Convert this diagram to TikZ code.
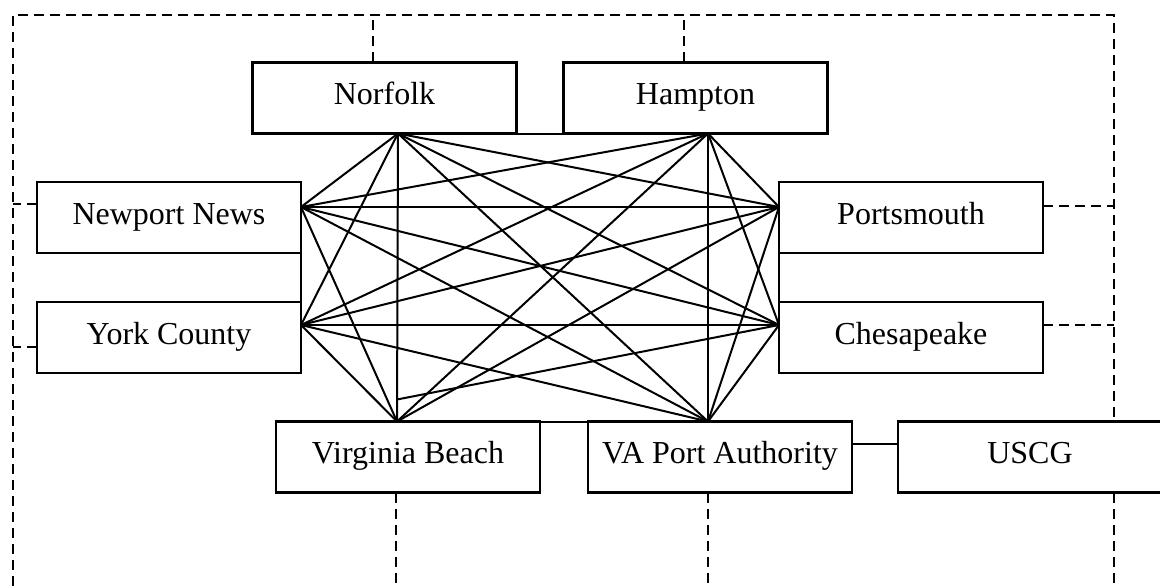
\documentclass[tikz,border=0pt]{standalone}
\usepackage{fontspec}
\setmainfont{Liberation Serif}
\usetikzlibrary{calc}
\begin{document}
\begin{tikzpicture}[x=1pt,y=-1pt,
  box/.style={draw,line width=2.2pt,minimum width=264pt,minimum height=71pt,inner sep=0pt,outer sep=0pt,
    text height=21pt,text depth=8pt,font=\fontsize{32}{38}\selectfont},
  link/.style={line width=2pt},
  dashlink/.style={line width=2pt,dash pattern=on 10pt off 6pt}]
\useasboundingbox (0,0) rectangle (1160,586);
% boxes
\node[box] (Nor)  at (384.5,98)  {Norfolk};
\node[box] (Ham)  at (695.5,98)  {Hampton};
\node[box] (NN)   at (169,217.5) {Newport News};
\node[box] (YC)   at (169,337.5) {York County};
\node[box] (Port) at (911,217.5) {Portsmouth};
\node[box] (Ches) at (911,337.5) {Chesapeake};
\node[box] (VB)   at (408,457)   {Virginia Beach};
\node[box] (VAPA) at (720,457)   {VA Port Authority};
\node[box] (USCG) at (1030,457)  {USCG};
% connection points
\coordinate (pA) at ($(Nor.south)+(13.5,0)$);
\coordinate (pB) at ($(Ham.south)+(12.5,0)$);
\coordinate (pC) at ($(NN.east)+(0,-10.5)$);
\coordinate (pD) at ($(YC.east)+(0,-12.5)$);
\coordinate (pE) at ($(Port.west)+(0,-10.5)$);
\coordinate (pF) at ($(Ches.west)+(0,-12.5)$);
\coordinate (pG) at ($(VB.north)+(-11,0)$);
\coordinate (pH) at ($(VAPA.north)+(-12,0)$);
\coordinate (pGx) at ($(pG)+(0,-22)$);
% complete network
\foreach \a/\b in {pA/pB,pA/pC,pA/pD,pA/pE,pA/pF,pA/pG,pA/pH,
                   pB/pC,pB/pD,pB/pE,pB/pF,pB/pG,pB/pH,
                   pC/pD,pC/pE,pC/pF,pC/pG,pC/pH,
                   pD/pE,pD/pF,pD/pG,pD/pH,
                   pE/pF,pE/pG,pE/pH,
                   pF/pGx,pF/pH,pG/pH}
  \draw[link] (\a) -- (\b);
% VAPA - USCG
\coordinate (vu) at ($(VAPA.east)+(0,-13)$);
\draw[link] (vu) -- (USCG.west |- vu);
% outer dashed frame
\coordinate (tl) at (13,15);
\coordinate (tr) at (1114,15);
\coordinate (bl) at (13,586);
\draw[dashlink] (bl) -- (tl) -- (tr) -- (tr |- USCG.north);
\coordinate (us) at ($(USCG.south)+(84,0)$);
\draw[dashlink] (us) -- (us |- bl);
% dashed ties
\coordinate (dA) at ($(Nor.north)+(-11.5,0)$);
\draw[dashlink] (dA) -- (dA |- tl);
\coordinate (dB) at ($(Ham.north)+(-11.5,0)$);
\draw[dashlink] (dB) -- (dB |- tl);
\coordinate (dC) at ($(NN.west)+(0,-13.5)$);
\draw[dashlink] (dC) -- (tl |- dC);
\coordinate (dD) at ($(YC.west)+(0,9.5)$);
\draw[dashlink] (dD) -- (tl |- dD);
\coordinate (dE) at ($(Port.east)+(0,-11.5)$);
\draw[dashlink] (dE) -- (tr |- dE);
\coordinate (dF) at ($(Ches.east)+(0,-12.5)$);
\draw[dashlink] (dF) -- (tr |- dF);
\coordinate (dG) at ($(VB.south)+(-12,0)$);
\draw[dashlink] (dG) -- (dG |- bl);
\coordinate (dH) at ($(VAPA.south)+(-12,0)$);
\draw[dashlink] (dH) -- (dH |- bl);
\end{tikzpicture}
\end{document}
